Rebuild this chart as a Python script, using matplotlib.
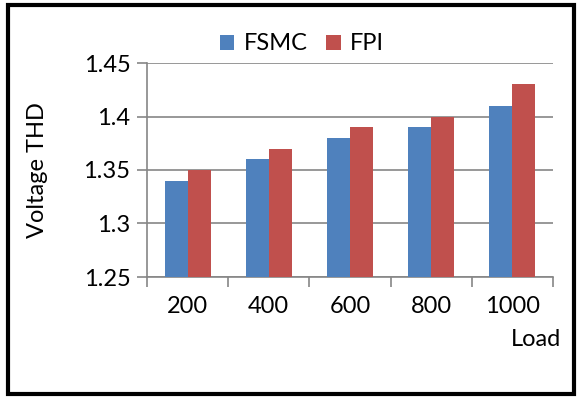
import matplotlib
matplotlib.use("Agg")
import matplotlib.pyplot as plt
import numpy as np
from matplotlib.patches import Rectangle

categories = ["200", "400", "600", "800", "1000"]
fsmc = [1.34, 1.36, 1.38, 1.39, 1.41]
fpi = [1.35, 1.37, 1.39, 1.40, 1.43]
yticks = [1.25, 1.3, 1.35, 1.4, 1.45]
ytick_labels = ["1.25", "1.3", "1.35", "1.4", "1.45"]

plt.rcParams['font.family'] = ['Lato', 'DejaVu Sans']
FS = 17

W, H = 577, 398
fig = plt.figure(figsize=(W/100, H/100), dpi=100)
ax = fig.add_axes([147/W, 1-277/H, (553-147)/W, (277-63)/H])

x = np.arange(len(categories))
bw = 0.284
blue = "#4F81BD"
red = "#C0504D"
ax.bar(x - bw/2, np.array(fsmc) - 1.25, bw, bottom=1.25, color=blue, label="FSMC", zorder=3)
ax.bar(x + bw/2, np.array(fpi) - 1.25, bw, bottom=1.25, color=red, label="FPI", zorder=3)

ax.set_xlim(-0.5, len(categories) - 0.5)
ax.set_ylim(1.25, 1.45)
ax.set_yticks(yticks)
ax.set_yticklabels(ytick_labels, fontsize=FS)
ax.set_xticks(x)
ax.set_xticklabels(categories, fontsize=FS)
ax.tick_params(axis='x', length=0, pad=14)
ax.set_xticks(np.arange(-0.5, len(categories)), minor=True)
ax.tick_params(axis='x', which='minor', length=7, color="#868686", width=1.2)
ax.tick_params(axis='y', length=7, color="#868686", width=1.2, pad=5)
ax.grid(axis='y', color="#868686", linewidth=1.2, zorder=0)
for s in ["top", "right"]:
    ax.spines[s].set_visible(False)
for s in ["left", "bottom"]:
    ax.spines[s].set_color("#868686")
    ax.spines[s].set_linewidth(1.2)

ax.set_ylabel("Voltage THD", fontsize=FS)
ax.yaxis.set_label_coords(-99/(553-147), 0.5)
fig.text(561/W, 1-340/H, "Load", fontsize=FS, ha='right', va='center')

leg = fig.legend(loc='center', bbox_to_anchor=(302/W, 1-44/H), ncol=2, frameon=False,
                 fontsize=FS, handlelength=0.6, handleheight=0.6, columnspacing=0.8,
                 handletextpad=0.4)

fig.patches.append(Rectangle((8/W, 4/H), (574-8)/W, (393-4)/H, transform=fig.transFigure,
                             fill=False, edgecolor='black', linewidth=3))

fig.savefig("out.png", dpi=100)
